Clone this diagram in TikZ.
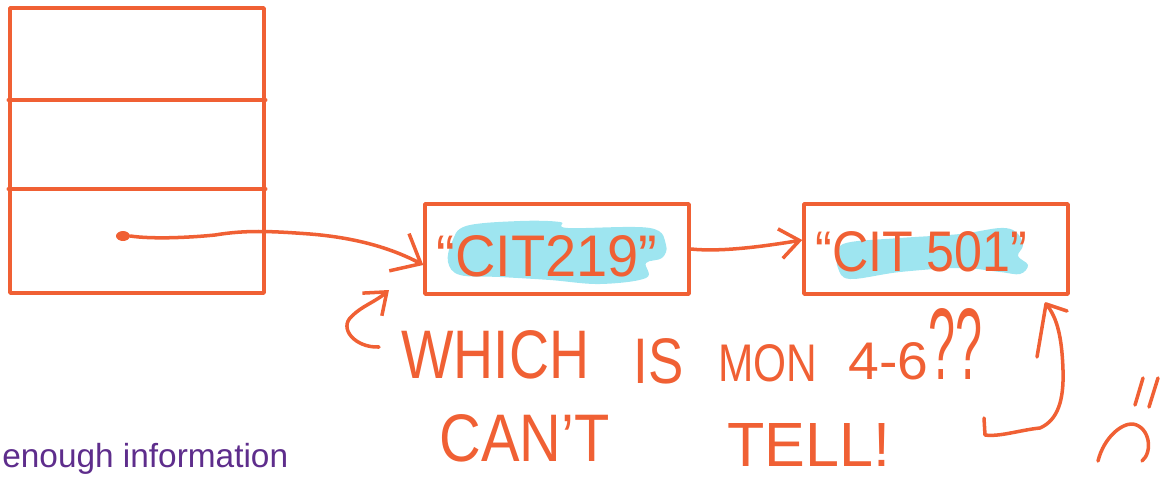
\documentclass[tikz,border=0pt]{standalone}
\usepackage{fontspec}
\setmainfont{Liberation Sans}
\usetikzlibrary{arrows.meta,calc,shapes.geometric}
\definecolor{ink}{RGB}{240,96,52}
\definecolor{hl}{RGB}{158,229,240}
\definecolor{violetink}{RGB}{94,45,140}
\newcommand\hw[3]{\resizebox{#1}{#2}{#3}}
\tikzset{
  pen/.style={draw=ink, line width=2pt, line cap=round, line join=round},
  cell/.style={pen, inner sep=0pt},
  hand/.style={text=ink, inner sep=0pt, anchor=south west},
  bigtip/.style={-{Straight Barb[length=14pt,width=24pt,line width=2pt]}},
  smalltip/.style={-{Straight Barb[length=11pt,width=17pt,line width=2pt]}},
  blob/.style={fill=hl},
}
\begin{document}
\begin{tikzpicture}[x=0.02cm,y=-0.02cm]
\useasboundingbox (0,0) rectangle (1171,481);

% highlight blobs
\fill[blob] plot[smooth cycle, tension=0.6] coordinates {(452,242) (466,226) (520,221) (560,222) (568,228) (650,228) (666,245) (662,258) (646,263) (646,278) (600,284) (550,280) (500,277) (460,275) (448,262)};
\fill[blob] plot[smooth cycle, tension=0.6] coordinates {(838,255) (846,243) (900,238) (960,234) (1000,228) (1016,232) (1023,245) (1018,256) (1028,265) (1020,274) (1000,272) (960,268) (900,272) (850,279) (838,268)};

% stack
\node[cell, minimum width=5.08cm, minimum height=5.7cm] (stack) at (137,150.5) {};
\draw[pen] (stack.west |- {(0,100)}) -- (stack.east |- {(0,100)});
\draw[pen] (stack.west |- {(0,189)}) -- (stack.east |- {(0,189)});

% boxes
\node[cell, minimum width=5.28cm, minimum height=1.8cm] (boxA) at (557,249) {};
\node[cell, minimum width=5.28cm, minimum height=1.8cm] (boxB) at (936,249) {};
\node[hand] (tA) at (436,277) {\hw{4.42cm}{0.82cm}{“CIT219”}};
\node[hand] (tB) at (815,272) {\hw{4.24cm}{0.8cm}{“CIT 501”}};

% dot and pointer
\node[ellipse, fill=ink, minimum width=0.28cm, minimum height=0.2cm, inner sep=0pt] (dot) at (123,236) {};
\draw[pen, bigtip] (dot.east) .. controls (150,239) and (185,238) .. (215,235)
  .. controls (245,230) and (270,231) .. (310,234)
  .. controls (360,238) and (395,250) .. ([yshift=-0.32cm]boxA.west);

% boxA -> boxB
\draw[pen, smalltip] (boxA.east) .. controls (720,252) and (760,247) .. ([yshift=0.18cm]boxB.west);

% curl arrow
\coordinate (cs) at (379,347);
\coordinate (ct) at (389,290);
\draw[pen, smalltip] (cs) .. controls (355,348) and (338,328) .. (352,316)
  .. controls (362,306) and (375,302) .. (ct);

% handwritten words
\node[hand] (w1) at (401,380) {\hw{3.76cm}{0.96cm}{WHICH}};
\node[hand] (w2) at (633,384) {\hw{1.0cm}{0.9cm}{IS}};
\node[hand] (w3) at (718,382) {\hw{1.98cm}{0.74cm}{MON}};
\node[hand] (w4) at (848,380) {\hw{1.6cm}{0.74cm}{4-6}};
\node[hand] (w5) at (928,380) {\hw{1.08cm}{1.42cm}{??}};
\node[hand] (w6) at (439,462) {\hw{3.4cm}{0.94cm}{CAN’T}};
\node[hand] (w7) at (727,467) {\hw{3.26cm}{0.86cm}{TELL!}};

% right hook arrow
\coordinate (rs) at (984,418);
\coordinate (rt) at (1046,304);
\draw[pen] (rs) -- (985,435) .. controls (1000,437) and (1020,430) .. (1040,428)
  .. controls (1058,420) and (1064,400) .. (1063,370)
  .. controls (1062,340) and (1058,318) .. (rt);
\draw[pen] (1037,357) -- (rt) -- (1067,311);

% frowny
\draw[pen] (1098,461) .. controls (1104,437) and (1122,423) .. (1133,424)
  .. controls (1150,427) and (1153,452) .. (1142,461);
\draw[pen] (1143,378) -- (1135,405);
\draw[pen] (1158,378) -- (1149,407);

% caption
\node[anchor=base west, inner sep=0pt, text=violetink, font=\fontsize{19}{22}\selectfont] (cap) at (2,467) {enough information};
\end{tikzpicture}
\end{document}
